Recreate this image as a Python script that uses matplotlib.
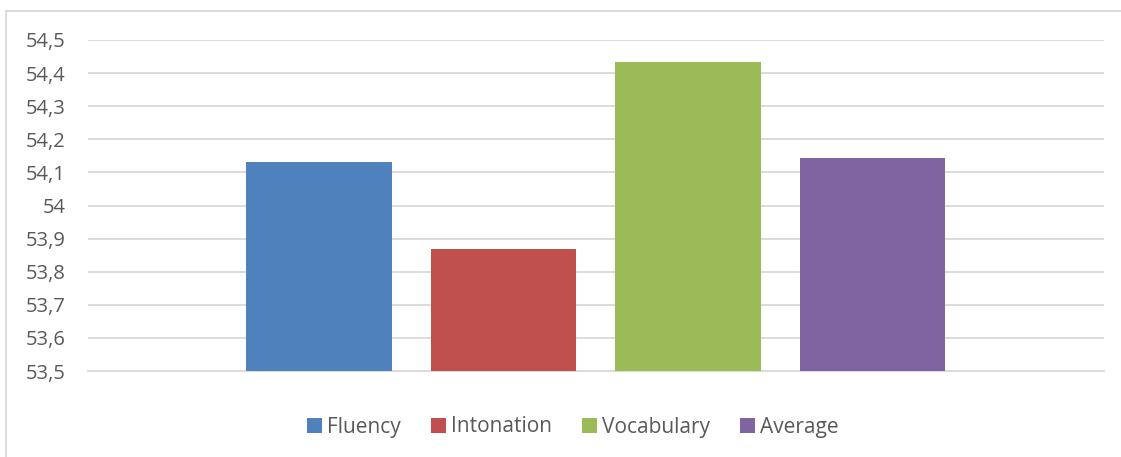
import matplotlib
matplotlib.use("Agg")
import matplotlib.pyplot as plt
from matplotlib.lines import Line2D
from matplotlib.patches import Patch

# data
series = ["Fluency", "Intonation", "Vocabulary", "Average"]
values = [54.13, 53.87, 54.435, 54.145]
colors = ["#4F81BD", "#C0504D", "#9BBB59", "#8064A2"]
yticks = [53.5, 53.6, 53.7, 53.8, 53.9, 54.0, 54.1, 54.2, 54.3, 54.4, 54.5]

plt.rcParams['font.family'] = ['Open Sans', 'DejaVu Sans']
W, H = 1121, 457
fig = plt.figure(figsize=(W / 100, H / 100), dpi=100)
ax = fig.add_axes([88 / W, 1 - 371 / H, (1104 - 88) / W, (371 - 40) / H])

x = list(range(len(series)))
ax.bar(x, [v - 53.5 for v in values], bottom=53.5, width=0.79, color=colors, zorder=3)

ax.set_xlim(-1.252, 4.255)
ax.set_ylim(53.5, 54.5)
ax.set_yticks(yticks)
ax.set_yticklabels([("%g" % t).replace(".", ",") for t in yticks], color="#595959", fontsize=14.5)
ax.set_xticks([])
ax.tick_params(axis="y", length=0, pad=16)
ax.grid(axis="y", color="#d9d9d9", linewidth=1.3, zorder=0)
for s in ["top", "right", "left"]:
    ax.spines[s].set_visible(False)
ax.spines["bottom"].set_color("#d9d9d9")
ax.spines["bottom"].set_linewidth(1.3)

# outer chart frame
fig.add_artist(Line2D([6 / W, 1], [1 - 11 / H, 1 - 11 / H], color="#d9d9d9", linewidth=1.3))
fig.add_artist(Line2D([6 / W, 6 / W], [0, 1 - 11 / H], color="#d9d9d9", linewidth=1.3))

handles = [Patch(facecolor=c, label=s) for s, c in zip(series, colors)]
leg = fig.legend(handles=handles, loc="center", bbox_to_anchor=(573 / W, 1 - 427 / H), ncol=4,
                 frameon=False, fontsize=15, handlelength=0.7, handleheight=0.7,
                 handletextpad=0.25, columnspacing=1.45)
for t in leg.get_texts():
    t.set_color("#595959")

fig.savefig("out.png", dpi=100, facecolor="white")
